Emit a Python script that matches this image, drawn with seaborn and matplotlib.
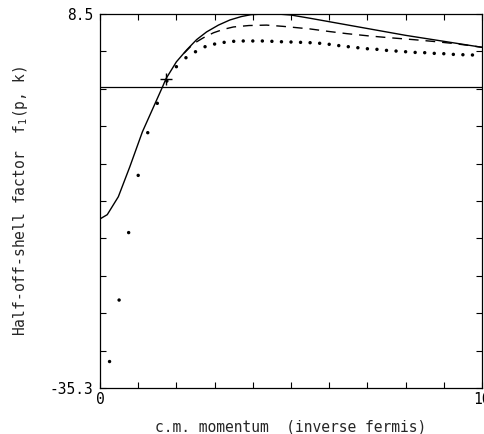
import matplotlib
matplotlib.use("Agg")
import matplotlib.pyplot as plt
import seaborn as sns
import numpy as np
import pandas as pd

# Half-off-shell factor f1(p, k) versus c.m. momentum
x_min, x_max = 0.0, 10.0
y_min, y_max = -35.3, 8.5

# full calculation (solid)
solid_x = [0.0, 0.19, 0.48, 0.78, 1.11, 1.40, 1.64, 1.73, 2.0, 2.27, 2.53, 2.79,
           3.1, 3.4, 3.7, 3.95, 4.3, 4.7, 5.0, 5.5, 6.0, 6.5, 7.0, 7.5, 8.0,
           8.5, 9.0, 9.5, 10.0]
solid_y = [-15.5, -15.0, -12.9, -9.4, -5.3, -2.4, 0.0, 0.94, 2.9, 4.3, 5.5, 6.4,
           7.2, 7.8, 8.2, 8.42, 8.5, 8.48, 8.38, 8.0, 7.6, 7.2, 6.8, 6.4, 6.0,
           5.65, 5.3, 4.95, 4.6]

# approximation (dashed)
dashed_x = [2.2, 2.44, 2.7, 2.97, 3.23, 3.49, 3.9, 4.36, 4.8, 5.5, 6.0, 6.46,
            7.0, 7.5, 8.2, 8.7, 9.25, 9.6, 10.0]
dashed_y = [3.9, 5.0, 5.7, 6.3, 6.7, 6.98, 7.15, 7.2, 7.05, 6.75, 6.45, 6.2,
            5.95, 5.75, 5.5, 5.3, 5.05, 4.85, 4.6]

# separable approximation (dots)
dot_x = [0.25 * k for k in range(1, 40)]
dot_y = [-32.2, -25.0, -17.1, -10.4, -5.4, -1.96, 0.65, 2.33, 3.38, 4.08,
         4.67, 4.98, 5.18, 5.3, 5.34, 5.34, 5.34, 5.3, 5.25, 5.22,
         5.18, 5.14, 5.07, 4.95, 4.8, 4.67, 4.55, 4.43, 4.36, 4.24,
         4.16, 4.08, 4.0, 3.97, 3.89, 3.85, 3.77, 3.73, 3.7]

# on-shell point
cross_x = [1.73]
cross_y = [0.94]

x_tick_labels = ["0", "10"]
y_tick_labels = ["-35.3", "8.5"]

sns.set_theme(style="ticks")
plt.rcParams["font.family"] = ["DejaVu Sans Mono", "DejaVu Sans"]
plt.rcParams["mathtext.default"] = "regular"

fig = plt.figure(figsize=(4.85, 4.34), dpi=100)
ax = fig.add_axes([100 / 485, 1 - 388 / 434, 382 / 485, 374 / 434])

solid = pd.DataFrame({"x": solid_x, "y": solid_y})
dashed = pd.DataFrame({"x": dashed_x, "y": dashed_y})
dots = pd.DataFrame({"x": dot_x, "y": dot_y})

ax.axhline(0.0, color="black", lw=0.9, zorder=1)
sns.lineplot(data=solid, x="x", y="y", ax=ax, color="black", lw=1.0,
             sort=False, estimator=None)
sns.lineplot(data=dashed, x="x", y="y", ax=ax, color="black", lw=1.0,
             sort=False, estimator=None, dashes=False)
ax.lines[-1].set_dashes((7, 5))
sns.scatterplot(data=dots, x="x", y="y", ax=ax, color="black", s=6,
                edgecolor="none", linewidth=0)
ax.plot(cross_x, cross_y, marker="+", ms=9, mew=1.0, color="black", ls="none")

ax.set_xlim(x_min, x_max)
ax.set_ylim(y_min, y_max)

xt = np.linspace(x_min, x_max, 11)
yt = np.linspace(y_min, y_max, 11)
ax.set_xticks(xt)
ax.set_yticks(yt)
ax.set_xticklabels([x_tick_labels[0]] + [""] * 9 + [x_tick_labels[1]])
ax.set_yticklabels([y_tick_labels[0]] + [""] * 9 + [y_tick_labels[1]])
ax.tick_params(direction="in", length=4, width=0.8, top=True, right=True,
               labelsize=10.5, colors="black")
ax.tick_params(axis="x", pad=3)
ax.tick_params(axis="y", pad=5)

for s in ax.spines.values():
    s.set_linewidth(0.9)
    s.set_color("black")

ax.set_xlabel("c.m. momentum  (inverse fermis)", fontsize=10.5, labelpad=12)
ax.set_ylabel("Half-off-shell factor  f$_1$(p, k)", fontsize=10.5, labelpad=14)
ax.xaxis.set_label_coords(0.5, -0.085)

fig.savefig("out.png", dpi=100)
